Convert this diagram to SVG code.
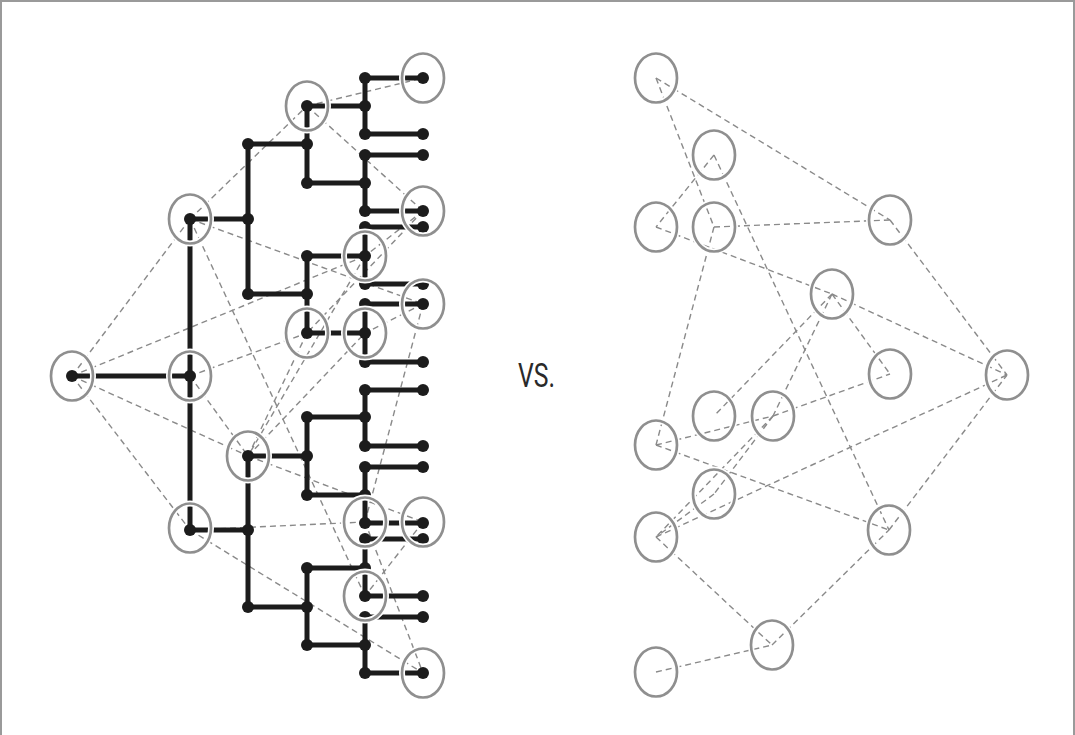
<svg xmlns="http://www.w3.org/2000/svg" width="1075" height="735" viewBox="0 0 1075 735">
<style>
.frame{fill:#fff;stroke:#9a9a9a;stroke-width:2}
.dash{stroke:#8a8a8a;stroke-width:1.4;stroke-dasharray:6 4;fill:none}
.tree{stroke:#1c1c1c;stroke-width:5;fill:none;stroke-linecap:round}
.dot{fill:#1c1c1c}
.halo{fill:none;stroke:#fff;stroke-width:6}
.ring{fill:none;stroke:#8f8f8f;stroke-width:2.7}
.vs{font-family:"Roboto","Liberation Sans",sans-serif;font-size:33px;fill:#2a2a2a}
</style>
<defs>
<g id="nd"><ellipse class="halo" rx="21" ry="24.5"/><ellipse class="ring" rx="21" ry="24.5"/></g>
</defs>
<rect class="frame" x="1" y="1" width="1073" height="740"/>

<g id="connectors">
<!-- left graph -->
<line class="dash" x1="72" y1="376" x2="190" y2="219"/>
<line class="dash" x1="72" y1="376" x2="365" y2="256"/>
<line class="dash" x1="72" y1="376" x2="248" y2="456"/>
<line class="dash" x1="72" y1="376" x2="190" y2="530"/>
<line class="dash" x1="190" y1="219" x2="307" y2="106"/>
<line class="dash" x1="190" y1="219" x2="423" y2="304"/>
<line class="dash" x1="190" y1="219" x2="365" y2="596"/>
<line class="dash" x1="307" y1="106" x2="423" y2="78"/>
<line class="dash" x1="307" y1="106" x2="423" y2="211"/>
<line class="dash" x1="423" y1="211" x2="365" y2="256"/>
<line class="dash" x1="423" y1="211" x2="307" y2="333"/>
<line class="dash" x1="365" y1="256" x2="248" y2="456"/>
<line class="dash" x1="423" y1="304" x2="365" y2="333"/>
<line class="dash" x1="423" y1="304" x2="365" y2="522"/>
<line class="dash" x1="190" y1="376" x2="307" y2="333"/>
<line class="dash" x1="190" y1="376" x2="248" y2="456"/>
<line class="dash" x1="248" y1="456" x2="307" y2="333"/>
<line class="dash" x1="248" y1="456" x2="365" y2="333"/>
<line class="dash" x1="248" y1="456" x2="423" y2="522"/>
<line class="dash" x1="190" y1="530" x2="365" y2="522"/>
<line class="dash" x1="190" y1="530" x2="423" y2="673"/>
<line class="dash" x1="365" y1="522" x2="423" y2="673"/>
<line class="dash" x1="423" y1="522" x2="365" y2="596"/>
<!-- right graph -->
<line class="dash" x1="656" y1="78" x2="714" y2="227"/>
<line class="dash" x1="656" y1="78" x2="890" y2="220"/>
<line class="dash" x1="714" y1="155" x2="656" y2="227"/>
<line class="dash" x1="714" y1="155" x2="889" y2="530"/>
<line class="dash" x1="656" y1="227" x2="832" y2="294"/>
<line class="dash" x1="714" y1="227" x2="890" y2="220"/>
<line class="dash" x1="714" y1="227" x2="656" y2="445"/>
<line class="dash" x1="890" y1="220" x2="1007" y2="375"/>
<line class="dash" x1="832" y1="294" x2="1007" y2="375"/>
<line class="dash" x1="832" y1="294" x2="890" y2="374"/>
<line class="dash" x1="832" y1="294" x2="714" y2="416"/>
<line class="dash" x1="832" y1="294" x2="773" y2="416"/>
<line class="dash" x1="656" y1="445" x2="773" y2="416"/>
<line class="dash" x1="656" y1="445" x2="889" y2="530"/>
<line class="dash" x1="773" y1="416" x2="890" y2="374"/>
<line class="dash" x1="773" y1="416" x2="714" y2="494"/>
<line class="dash" x1="773" y1="416" x2="656" y2="537"/>
<line class="dash" x1="714" y1="494" x2="656" y2="537"/>
<line class="dash" x1="656" y1="537" x2="1007" y2="375"/>
<line class="dash" x1="656" y1="537" x2="772" y2="645"/>
<line class="dash" x1="656" y1="672" x2="772" y2="645"/>
<line class="dash" x1="772" y1="645" x2="889" y2="530"/>
<line class="dash" x1="889" y1="530" x2="1007" y2="375"/>
</g>

<g id="tree">
<path class="tree" d="M72 376H190 M190 219V530 M190 219H248 M190 530H248
M248 144V294 M248 144H307 M248 294H307 M248 456V607 M248 456H307 M248 607H307
M307 106V183 M307 106H365 M307 183H365 M307 256V333 M307 256H365 M307 333H365
M307 417V495 M307 417H365 M307 495H365 M307 568V645 M307 568H365 M307 645H365
M365 78V134 M365 155V211 M365 227V284 M365 304V362 M365 390V446 M365 467V523 M365 539V596 M365 617V673
M365 78H423 M365 134H423 M365 155H423 M365 211H423 M365 227H423 M365 284H423 M365 304H423 M365 362H423
M365 390H423 M365 446H423 M365 467H423 M365 523H423 M365 539H423 M365 596H423 M365 617H423 M365 673H423"/>
<g class="dot">
<circle cx="72" cy="376" r="6"/><circle cx="190" cy="376" r="6"/><circle cx="190" cy="219" r="6"/><circle cx="190" cy="530" r="6"/>
<circle cx="248" cy="144" r="6"/><circle cx="248" cy="219" r="6"/><circle cx="248" cy="294" r="6"/><circle cx="248" cy="456" r="6"/><circle cx="248" cy="530" r="6"/><circle cx="248" cy="607" r="6"/>
<circle cx="307" cy="106" r="6"/><circle cx="307" cy="144" r="6"/><circle cx="307" cy="183" r="6"/><circle cx="307" cy="256" r="6"/><circle cx="307" cy="294" r="6"/><circle cx="307" cy="333" r="6"/>
<circle cx="307" cy="417" r="6"/><circle cx="307" cy="456" r="6"/><circle cx="307" cy="495" r="6"/><circle cx="307" cy="568" r="6"/><circle cx="307" cy="607" r="6"/><circle cx="307" cy="645" r="6"/>
<circle cx="365" cy="78" r="6"/><circle cx="365" cy="106" r="6"/><circle cx="365" cy="134" r="6"/><circle cx="365" cy="155" r="6"/><circle cx="365" cy="183" r="6"/><circle cx="365" cy="211" r="6"/>
<circle cx="365" cy="227" r="6"/><circle cx="365" cy="256" r="6"/><circle cx="365" cy="284" r="6"/><circle cx="365" cy="304" r="6"/><circle cx="365" cy="333" r="6"/><circle cx="365" cy="362" r="6"/>
<circle cx="365" cy="390" r="6"/><circle cx="365" cy="417" r="6"/><circle cx="365" cy="446" r="6"/><circle cx="365" cy="467" r="6"/><circle cx="365" cy="495" r="6"/><circle cx="365" cy="523" r="6"/>
<circle cx="365" cy="539" r="6"/><circle cx="365" cy="568" r="6"/><circle cx="365" cy="596" r="6"/><circle cx="365" cy="617" r="6"/><circle cx="365" cy="645" r="6"/><circle cx="365" cy="673" r="6"/>
<circle cx="423" cy="78" r="6"/><circle cx="423" cy="134" r="6"/><circle cx="423" cy="155" r="6"/><circle cx="423" cy="211" r="6"/><circle cx="423" cy="227" r="6"/><circle cx="423" cy="284" r="6"/>
<circle cx="423" cy="304" r="6"/><circle cx="423" cy="362" r="6"/><circle cx="423" cy="390" r="6"/><circle cx="423" cy="446" r="6"/><circle cx="423" cy="467" r="6"/><circle cx="423" cy="523" r="6"/>
<circle cx="423" cy="539" r="6"/><circle cx="423" cy="596" r="6"/><circle cx="423" cy="617" r="6"/><circle cx="423" cy="673" r="6"/>
</g>
</g>

<g id="left-nodes">
<g id="l1"><use href="#nd" x="72" y="376"/></g>
<g id="l2"><use href="#nd" x="190" y="376"/></g>
<g id="l3"><use href="#nd" x="190" y="219"/></g>
<g id="l4"><use href="#nd" x="190" y="528"/></g>
<g id="l5"><use href="#nd" x="307" y="106"/></g>
<g id="l6"><use href="#nd" x="423" y="78"/></g>
<g id="l7"><use href="#nd" x="423" y="211"/></g>
<g id="l8"><use href="#nd" x="365" y="256"/></g>
<g id="l9"><use href="#nd" x="423" y="304"/></g>
<g id="l10"><use href="#nd" x="307" y="333"/></g>
<g id="l11"><use href="#nd" x="365" y="333"/></g>
<g id="l12"><use href="#nd" x="248" y="456"/></g>
<g id="l13"><use href="#nd" x="365" y="522"/></g>
<g id="l14"><use href="#nd" x="423" y="522"/></g>
<g id="l15"><use href="#nd" x="365" y="596"/></g>
<g id="l16"><use href="#nd" x="423" y="673"/></g>
</g>

<g id="right-nodes">
<g id="rA"><use href="#nd" x="656" y="78"/></g>
<g id="rB"><use href="#nd" x="714" y="155"/></g>
<g id="rC"><use href="#nd" x="656" y="227"/></g>
<g id="rD"><use href="#nd" x="714" y="227"/></g>
<g id="rE"><use href="#nd" x="890" y="220"/></g>
<g id="rF"><use href="#nd" x="832" y="294"/></g>
<g id="rG"><use href="#nd" x="890" y="374"/></g>
<g id="rH"><use href="#nd" x="1007" y="375"/></g>
<g id="rI"><use href="#nd" x="656" y="445"/></g>
<g id="rJ"><use href="#nd" x="714" y="416"/></g>
<g id="rK"><use href="#nd" x="773" y="416"/></g>
<g id="rL"><use href="#nd" x="714" y="494"/></g>
<g id="rM"><use href="#nd" x="656" y="537"/></g>
<g id="rN"><use href="#nd" x="889" y="530"/></g>
<g id="rO"><use href="#nd" x="772" y="645"/></g>
<g id="rP"><use href="#nd" x="656" y="672"/></g>
</g>

<text class="vs" x="518" y="387" textLength="37" lengthAdjust="spacingAndGlyphs">VS.</text>
</svg>
